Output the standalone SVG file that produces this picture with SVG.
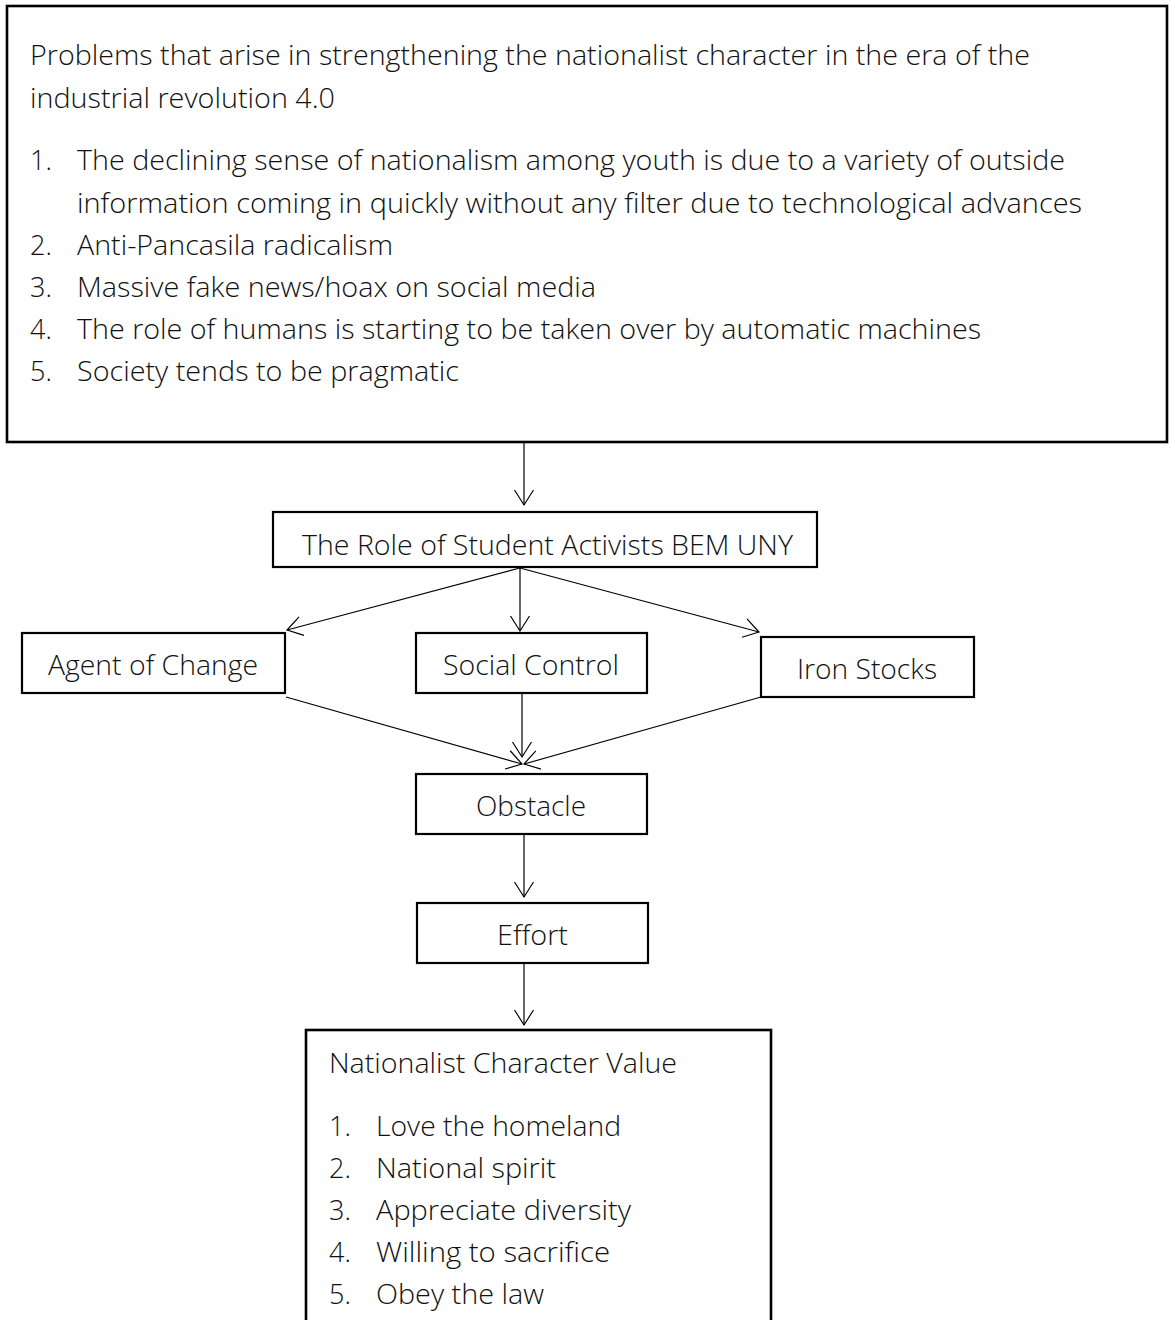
<svg xmlns="http://www.w3.org/2000/svg" width="1170" height="1320" viewBox="0 0 1170 1320">
<defs>
<style>
.box{fill:#fff;stroke:#000;stroke-width:2.2}
.big{fill:#fff;stroke:#000;stroke-width:2.6}
.t{font-family:"Open Sans","Noto Sans",sans-serif;font-size:27px;fill:#111;font-weight:300}
.c{text-anchor:middle}
.ln{stroke:#000;stroke-width:1.2;fill:none}
</style>
<marker id="ah" markerUnits="userSpaceOnUse" viewBox="-17 -12 19 24" refX="0" refY="0" markerWidth="19" markerHeight="24" orient="auto">
<path d="M-15,-9.5 L0,0 L-15,9.5" fill="none" stroke="#000" stroke-width="1.2"/>
</marker>
</defs>
<rect width="1170" height="1320" fill="#fff"/>

<g id="problems">
<rect class="big" x="7" y="6" width="1160" height="436"/>
<text class="t" x="30" y="65" textLength="1000" lengthAdjust="spacingAndGlyphs">Problems that arise in strengthening the nationalist character in the era of the</text>
<text class="t" x="30" y="108" textLength="305" lengthAdjust="spacingAndGlyphs">industrial revolution 4.0</text>
<text class="t" x="30" y="170">1.</text>
<text class="t" x="77" y="170" textLength="988" lengthAdjust="spacingAndGlyphs">The declining sense of nationalism among youth is due to a variety of outside</text>
<text class="t" x="77" y="213" textLength="1005" lengthAdjust="spacingAndGlyphs">information coming in quickly without any filter due to technological advances</text>
<text class="t" x="30" y="255">2.</text>
<text class="t" x="77" y="255" textLength="316" lengthAdjust="spacingAndGlyphs">Anti-Pancasila radicalism</text>
<text class="t" x="30" y="297">3.</text>
<text class="t" x="77" y="297" textLength="519" lengthAdjust="spacingAndGlyphs">Massive fake news/hoax on social media</text>
<text class="t" x="30" y="339">4.</text>
<text class="t" x="77" y="339" textLength="904" lengthAdjust="spacingAndGlyphs">The role of humans is starting to be taken over by automatic machines</text>
<text class="t" x="30" y="381">5.</text>
<text class="t" x="77" y="381" textLength="382" lengthAdjust="spacingAndGlyphs">Society tends to be pragmatic</text>
</g>

<g id="role">
<rect class="box" x="273" y="512" width="544" height="55"/>
<text class="t" x="302" y="555" textLength="491" lengthAdjust="spacingAndGlyphs">The Role of Student Activists BEM UNY</text>
</g>

<g id="agent">
<rect class="box" x="22" y="633" width="263" height="60"/>
<text class="t" x="48" y="675" textLength="210" lengthAdjust="spacingAndGlyphs">Agent of Change</text>
</g>

<g id="social">
<rect class="box" x="416" y="633" width="231" height="60"/>
<text class="t" x="443" y="675" textLength="176" lengthAdjust="spacingAndGlyphs">Social Control</text>
</g>

<g id="iron">
<rect class="box" x="761" y="637" width="213" height="60"/>
<text class="t" x="797" y="679" textLength="140" lengthAdjust="spacingAndGlyphs">Iron Stocks</text>
</g>

<g id="obstacle">
<rect class="box" x="416" y="774" width="231" height="60"/>
<text class="t" x="476" y="816" textLength="110" lengthAdjust="spacingAndGlyphs">Obstacle</text>
</g>

<g id="effort">
<rect class="box" x="417" y="903" width="231" height="60"/>
<text class="t" x="497" y="945" textLength="71" lengthAdjust="spacingAndGlyphs">Effort</text>
</g>

<g id="values">
<rect class="big" x="306" y="1030" width="465" height="300"/>
<text class="t" x="329" y="1073" textLength="348" lengthAdjust="spacingAndGlyphs">Nationalist Character Value</text>
<text class="t" x="329" y="1136">1.</text>
<text class="t" x="376" y="1136" textLength="245" lengthAdjust="spacingAndGlyphs">Love the homeland</text>
<text class="t" x="329" y="1178">2.</text>
<text class="t" x="376" y="1178" textLength="180" lengthAdjust="spacingAndGlyphs">National spirit</text>
<text class="t" x="329" y="1220">3.</text>
<text class="t" x="376" y="1220" textLength="255" lengthAdjust="spacingAndGlyphs">Appreciate diversity</text>
<text class="t" x="329" y="1262">4.</text>
<text class="t" x="376" y="1262" textLength="234" lengthAdjust="spacingAndGlyphs">Willing to sacrifice</text>
<text class="t" x="329" y="1304">5.</text>
<text class="t" x="376" y="1304" textLength="168" lengthAdjust="spacingAndGlyphs">Obey the law</text>
</g>

<g id="connectors">
<line class="ln" x1="524" y1="443" x2="524" y2="505" marker-end="url(#ah)"/>
<line class="ln" x1="520" y1="568" x2="287" y2="630" marker-end="url(#ah)"/>
<line class="ln" x1="520" y1="568" x2="520" y2="631" marker-end="url(#ah)"/>
<line class="ln" x1="520" y1="568" x2="759" y2="632" marker-end="url(#ah)"/>
<line class="ln" x1="286" y1="697" x2="522" y2="764" marker-end="url(#ah)"/>
<line class="ln" x1="522" y1="694" x2="522" y2="757" marker-end="url(#ah)"/>
<line class="ln" x1="761" y1="697" x2="524" y2="764" marker-end="url(#ah)"/>
<line class="ln" x1="524" y1="835" x2="524" y2="897" marker-end="url(#ah)"/>
<line class="ln" x1="524" y1="964" x2="524" y2="1025" marker-end="url(#ah)"/>
</g>
</svg>
